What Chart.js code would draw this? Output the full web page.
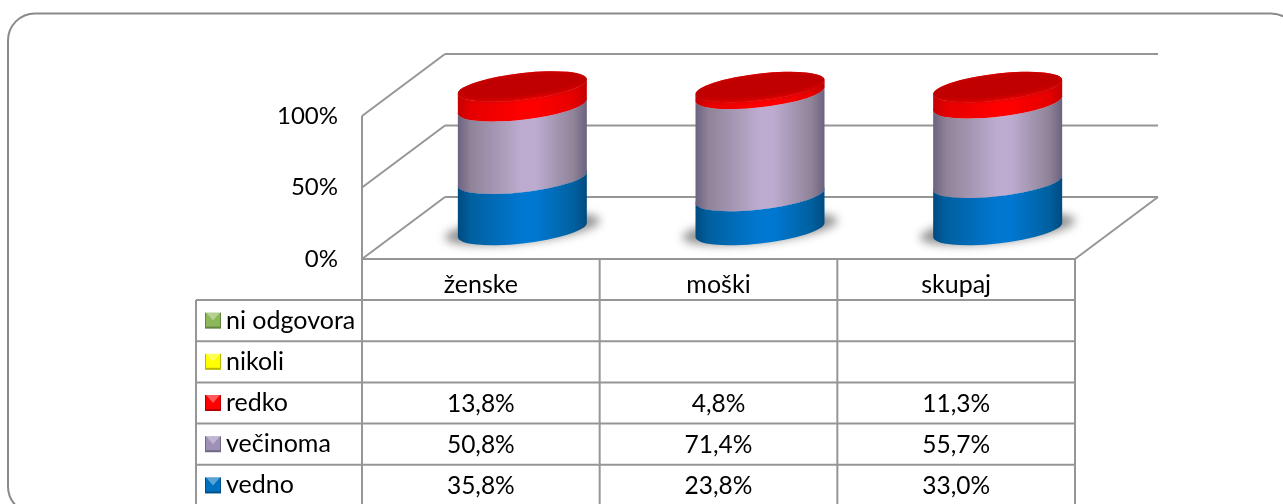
<!DOCTYPE html>
<html>
<head>
<meta charset="utf-8">
<style>
html, body { margin: 0; padding: 0; background: #fff; overflow: hidden; }
#chart { display: block; }
</style>
<script src="https://cdn.jsdelivr.net/npm/chart.js@4/dist/chart.umd.min.js"></script>
</head>
<body>
<canvas id="chart" width="1283" height="504"></canvas>
<script>
var categories = ['ženske', 'moški', 'skupaj'];
var seriesNames = ['vedno', 'večinoma', 'redko', 'nikoli', 'ni odgovora'];
var vedno = [35.8, 23.8, 33.0];
var vecinoma = [50.8, 71.4, 55.7];
var redko = [13.8, 4.8, 11.3];
var nikoli = [null, null, null];
var niOdgovora = [null, null, null];
var tickValues = [0, 50, 100];

// center, near edge, edge
var sideColors = [
    ['#0078d2', '#00609f', '#004a80'],
    ['#bdacd0', '#8f8398', '#6c6280'],
    ['#ff0000', '#e60000', '#c40000'],
    ['#ffff00', '#d0d000', '#b0b000'],
    ['#9bd35a', '#7fae48', '#5f8a35']
];
var keyColors = ['#0070c0', '#9f90b8', '#ff0000', '#ffff00', '#8db85a'];

var GRID = '#969696';
var FONT = 'Lato';
var FONT_SIZE = 25;
var NUM_SIZE = 24.5;
var DEPTH_X = 83, DEPTH_Y = 62;   // 3D floor depth
var TILT = 0.11, RX = 64.5, RY = 13.5;
var TABLE_LEFT = 196;
var ROW_TOP = 300, ROW_H = 41.2, TABLE_BOTTOM = 504;

function line(ctx, x1, y1, x2, y2) {
    ctx.beginPath();
    ctx.moveTo(x1, y1);
    ctx.lineTo(x2, y2);
    ctx.stroke();
}

function sideGradient(ctx, colors) {
    var g = ctx.createLinearGradient(-RX, 0, RX, 0);
    g.addColorStop(0, colors[2]);
    g.addColorStop(0.1, colors[1]);
    g.addColorStop(0.5, colors[0]);
    g.addColorStop(0.6, colors[0]);
    g.addColorStop(0.9, colors[1]);
    g.addColorStop(1, colors[2]);
    return g;
}

// walls, floor and table
function drawFrame(chart) {
    var ctx = chart.ctx, a = chart.chartArea, y = chart.scales.y;
    ctx.save();
    ctx.strokeStyle = '#8a8a8a';
    ctx.lineWidth = 2;
    ctx.beginPath();
    ctx.roundRect(8, 13.5, 1290, 500, 27);
    ctx.stroke();

    ctx.strokeStyle = GRID;
    ctx.lineWidth = 2;
    tickValues.forEach(function (t) {
        var py = y.getPixelForValue(t);
        line(ctx, a.left, py, a.left + DEPTH_X, py - DEPTH_Y);
        line(ctx, a.left + DEPTH_X, py - DEPTH_Y, a.right + DEPTH_X, py - DEPTH_Y);
    });
    line(ctx, a.left, a.top, a.left, a.bottom);
    line(ctx, a.right, a.bottom, a.right + DEPTH_X, a.bottom - DEPTH_Y);

    // table lines
    line(ctx, a.left, a.bottom, a.right, a.bottom);
    for (var i = 0; i < seriesNames.length; i++) {
        var ry = ROW_TOP + i * ROW_H;
        line(ctx, TABLE_LEFT, ry, a.right, ry);
    }
    line(ctx, TABLE_LEFT, ROW_TOP, TABLE_LEFT, TABLE_BOTTOM);
    var band = (a.right - a.left) / categories.length;
    for (var c = 0; c <= categories.length; c++) {
        line(ctx, a.left + c * band, a.bottom, a.left + c * band, TABLE_BOTTOM);
    }
    ctx.restore();
}

function drawTable(chart) {
    var ctx = chart.ctx, x = chart.scales.x;
    ctx.save();
    ctx.textBaseline = 'middle';
    for (var i = 0; i < seriesNames.length; i++) {
        var ds = seriesNames.length - 1 - i;
        var cy = ROW_TOP + i * ROW_H + ROW_H / 2;
        drawKey(ctx, 205, cy - 8, keyColors[ds]);
        ctx.fillStyle = '#000';
        ctx.font = FONT_SIZE + 'px ' + FONT;
        ctx.textAlign = 'left';
        ctx.fillText(seriesNames[ds], 226, cy);
        ctx.font = NUM_SIZE + 'px ' + FONT;
        ctx.textAlign = 'center';
        chart.data.datasets[ds].data.forEach(function (v, c) {
            if (v === null) return;
            ctx.fillText(v.toFixed(1).replace('.', ',') + '%', x.getPixelForValue(c), cy + 1);
        });
    }
    ctx.restore();
}

// little bevelled legend square
function drawKey(ctx, x, y, color) {
    ctx.fillStyle = color;
    ctx.fillRect(x, y, 16, 16);
    ctx.fillStyle = 'rgba(255,255,255,0.35)';
    ctx.beginPath();
    ctx.moveTo(x + 1, y);
    ctx.lineTo(x + 15, y);
    ctx.lineTo(x + 8, y + 8);
    ctx.fill();
    ctx.fillStyle = 'rgba(0,0,0,0.28)';
    ctx.fillRect(x, y + 14, 16, 2);
    ctx.fillRect(x, y, 1, 14);
    ctx.fillRect(x + 15, y, 1, 14);
}

function drawCylinders(chart) {
    var ctx = chart.ctx;
    var n = chart.data.labels.length;
    for (var c = 0; c < n; c++) {
        var base0 = chart.getDatasetMeta(0).data[c];
        var cx = base0.x + DEPTH_X / 2;
        var cy = base0.base - DEPTH_Y / 2 + 2;

        // shadow on the floor
        ctx.save();
        ctx.transform(1, -TILT, 0, 1, cx, cy);
        ctx.filter = 'blur(5px)';
        ctx.fillStyle = 'rgba(70,70,70,0.6)';
        ctx.beginPath();
        ctx.ellipse(0, -1, RX + 13, RY, 0, 0, Math.PI * 2);
        ctx.fill();
        ctx.restore();

        var topY = null;
        chart.data.datasets.forEach(function (ds, i) {
            if (ds.data[c] === null) return;
            var el = chart.getDatasetMeta(i).data[c];
            var yb = el.base - base0.base;
            var yt = el.y - base0.base;
            ctx.save();
            ctx.transform(1, -TILT, 0, 1, cx, cy);
            ctx.fillStyle = sideGradient(ctx, sideColors[i]);
            ctx.beginPath();
            ctx.ellipse(0, yb, RX, RY, 0, Math.PI, 0, true);
            ctx.lineTo(RX, yt);
            ctx.ellipse(0, yt, RX, RY, 0, 0, Math.PI, false);
            ctx.closePath();
            ctx.fill();
            // upper half of the top edge, so the lid has something under it
            ctx.beginPath();
            ctx.ellipse(0, yt, RX, RY, 0, 0, Math.PI * 2);
            ctx.fill();
            ctx.restore();
            topY = yt;
        });

        // lid, soft on the front rim
        ctx.save();
        ctx.transform(1, -TILT, 0, 1, cx, cy);
        ctx.fillStyle = '#c00000';
        ctx.beginPath();
        ctx.ellipse(0, topY, RX, RY, 0, Math.PI, 0, false);
        ctx.lineTo(RX, topY + 6);
        ctx.ellipse(0, topY + 6, RX, RY, 0, 0, Math.PI, false);
        ctx.closePath();
        ctx.clip();
        ctx.filter = 'blur(2px)';
        ctx.beginPath();
        ctx.ellipse(0, topY - 1, RX + 2, RY, 0, 0, Math.PI * 2);
        ctx.fill();
        ctx.restore();
    }
}

var cylinderPlugin = {
    id: 'cylinders',
    beforeDatasetsDraw: function (chart) {
        drawFrame(chart);
        drawTable(chart);
        drawCylinders(chart);
        return false;
    }
};

var ctx = document.getElementById('chart').getContext('2d');
new Chart(ctx, {
    type: 'bar',
    plugins: [cylinderPlugin],
    data: {
        labels: categories,
        datasets: [vedno, vecinoma, redko, nikoli, niOdgovora].map(function (d, i) {
            return { label: seriesNames[i], data: d, backgroundColor: keyColors[i] };
        })
    },
    options: {
        responsive: false,
        animation: false,
        layout: { padding: { top: 116, right: 208, left: 0, bottom: 0 } },
        plugins: { legend: { display: false }, tooltip: { enabled: false } },
        datasets: { bar: { barPercentage: 0.5386, categoryPercentage: 1 } },
        scales: {
            x: {
                stacked: true,
                grid: { display: false, drawTicks: false },
                border: { display: false },
                ticks: { color: '#000', padding: 11, font: { family: FONT, size: FONT_SIZE } },
                afterFit: function (s) { s.height = 245; }
            },
            y: {
                stacked: true,
                min: 0,
                max: 100,
                grid: { display: false, drawTicks: false },
                border: { display: false },
                afterBuildTicks: function (s) {
                    s.ticks = tickValues.map(function (v) { return { value: v }; });
                },
                ticks: {
                    color: '#000',
                    padding: 24,
                    font: { family: FONT, size: 24 },
                    callback: function (v) { return v + '%'; }
                },
                afterFit: function (s) { s.width = 362; }
            }
        }
    }
});
</script>
</body>
</html>
